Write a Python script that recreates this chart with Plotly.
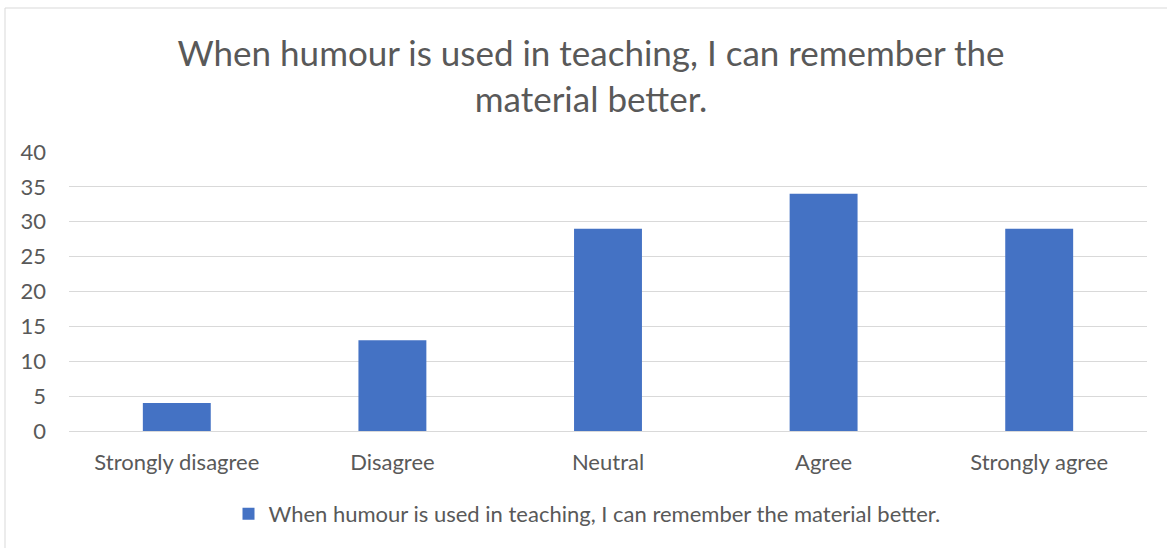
import plotly.graph_objects as go

categories = ["Strongly disagree", "Disagree", "Neutral", "Agree", "Strongly agree"]
values = [4, 13, 29, 34, 29]
series_name = "When humour is used in teaching, I can remember the material better."
title_text = "When humour is used in teaching, I can remember the<br>material better."
y_ticks = [0, 5, 10, 15, 20, 25, 30, 35, 40]

W, H = 1167, 548
L, R, T, B = 69, 20, 152, 117
pw, ph = W - L - R, H - T - B

FONT = "Lato, Open Sans, sans-serif"
GREY = "#595959"

fig = go.Figure()
fig.add_trace(go.Bar(x=categories, y=values, name=series_name,
                     marker=dict(color="#4472C4", line=dict(width=0)),
                     showlegend=True))

def px_x(p):
    return (p - L) / pw

def px_y(p):
    return 1 - (p - T) / ph

fig.update_layout(
    width=W, height=H,
    margin=dict(l=L, r=R, t=T, b=B),
    paper_bgcolor="white", plot_bgcolor="white",
    bargap=0.685,
    font=dict(family=FONT, color=GREY, size=22),
    title=dict(text=title_text, x=591 / W, xanchor="center",
               y=1 - 66 / H, yanchor="middle",
               font=dict(size=35, color=GREY, family=FONT)),
    xaxis=dict(showgrid=False, showline=False, ticks="", tickfont=dict(size=22, color=GREY),
               ticklabelstandoff=16),
    yaxis=dict(range=[0, 40], tickvals=y_ticks, showgrid=True, gridcolor="#D9D9D9",
               gridwidth=1, zeroline=True, zerolinecolor="#D9D9D9", zerolinewidth=1,
               showline=False, ticks="", tickfont=dict(size=22, color=GREY),
               ticklabelstandoff=22),
    legend=dict(orientation="h", x=px_x(587), xanchor="center", y=px_y(514), yanchor="middle",
                font=dict(size=22, color=GREY), itemwidth=30, bgcolor="rgba(0,0,0,0)"),
    shapes=[dict(type="rect", xref="paper", yref="paper",
                 x0=px_x(5), x1=px_x(1175), y0=px_y(556), y1=px_y(8),
                 line=dict(color="#D9D9D9", width=1), fillcolor="rgba(0,0,0,0)", layer="below")],
)

fig.write_html("out.html", config={"displayModeBar": False},
               post_script="document.body.style.margin='0';document.body.style.overflow='hidden';")
